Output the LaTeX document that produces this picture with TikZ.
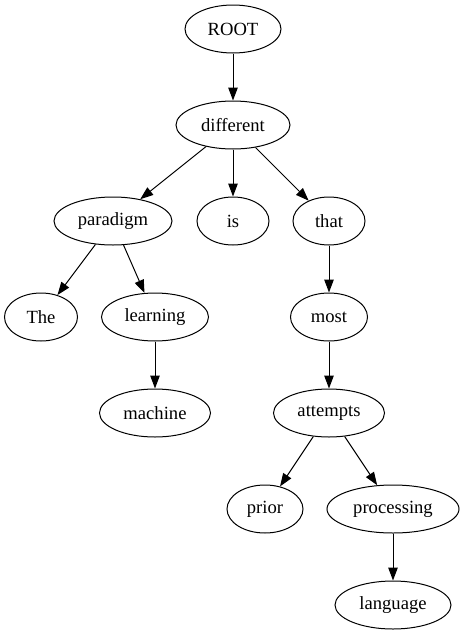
\documentclass[tikz,border=0pt]{standalone}
\usepackage{fontspec}
\setmainfont{Liberation Serif}
\usepackage{tikz}
\usetikzlibrary{shapes.geometric,arrows.meta}

\begin{document}
\begin{tikzpicture}[x=1pt,y=-1pt]

\useasboundingbox (0,0) rectangle (464,635);

\tikzstyle{word} = [draw, ellipse, line width=1pt, inner sep=0pt, minimum height=48pt, font=\fontsize{18.6}{22}\selectfont]
\tikzstyle{dep} = [line width=1pt, -{Triangle[length=13pt,width=9.5pt]}]

\node (root) [word,minimum width=96pt] at (233,29) {ROOT};
\node (different) [word,minimum width=114pt] at (233,125) {different};

\node (paradigm) [word,minimum width=118pt] at (113,221) {paradigm};
\node (is) [word,minimum width=72pt] at (233,221) {is};
\node (that) [word,minimum width=72pt] at (329,221) {that};

\node (the) [word,minimum width=73pt] at (41,317) {The};
\node (learning) [word,minimum width=107pt] at (155,317) {learning};
\node (most) [word,minimum width=77pt] at (329,317) {most};

\node (machine) [word,minimum width=111pt] at (155,413) {machine};
\node (attempts) [word,minimum width=111pt] at (329,413) {attempts};

\node (prior) [word,minimum width=76pt] at (265,509) {prior};
\node (processing) [word,minimum width=132pt] at (393,509) {processing};
\node (language) [word,minimum width=116pt] at (393,605) {language};

\draw [dep] (root) -- (different);
\draw [dep] (different) -- (paradigm);
\draw [dep] (different) -- (is);
\draw [dep] (different) -- (that);
\draw [dep] (paradigm) -- (the);
\draw [dep] (paradigm) -- (learning);
\draw [dep] (learning) -- (machine);
\draw [dep] (that) -- (most);
\draw [dep] (most) -- (attempts);
\draw [dep] (attempts) -- (prior);
\draw [dep] (attempts) -- (processing);
\draw [dep] (processing) -- (language);

\end{tikzpicture}
\end{document}
